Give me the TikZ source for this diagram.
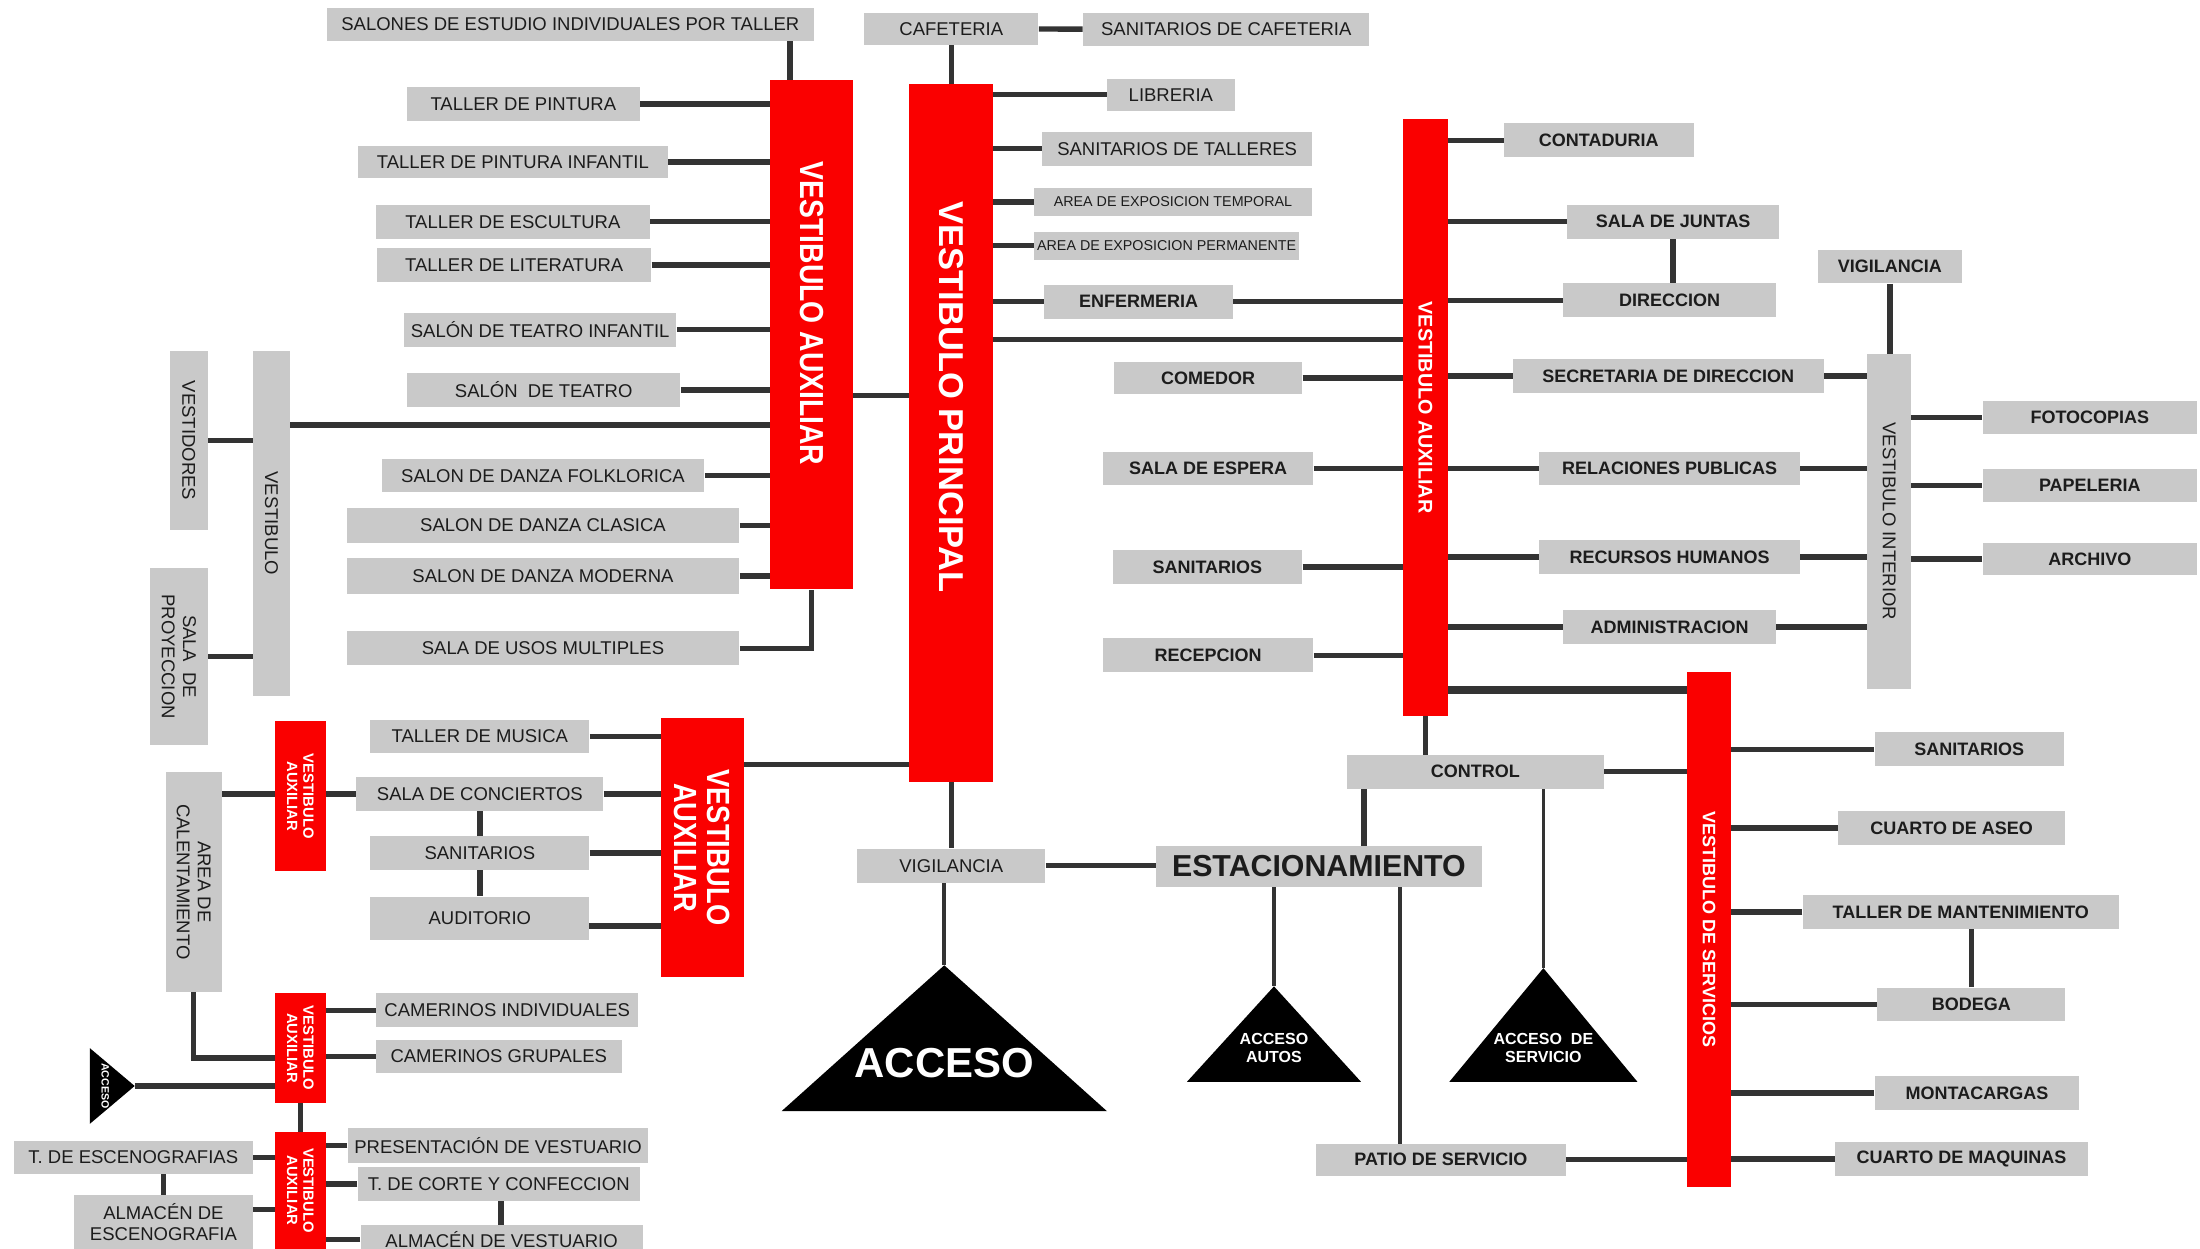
\documentclass[tikz,border=0pt]{standalone}
\usepackage{fontspec}
\setmainfont{Liberation Sans}
\newfontfamily\vestfont[FakeStretch=0.85]{Liberation Sans}
\usetikzlibrary{backgrounds}

\definecolor{gris}{RGB}{201,201,201}
\definecolor{rojo}{RGB}{250,0,0}
\definecolor{linea}{RGB}{51,51,51}
\definecolor{letra}{RGB}{28,28,28}

\begin{document}
\begin{tikzpicture}[
  x=0.2mm, y=-0.2mm,
  sz/.style 2 args={minimum width=#1*0.2mm, minimum height=#2*0.2mm},
  sala/.style={fill=gris, inner sep=0pt, text=letra, align=center,
    font=\fontsize{7.5}{8.6}\selectfont},
  salab/.style={sala, font=\fontsize{7.3}{8.6}\selectfont\bfseries},
  chica/.style={sala, font=\fontsize{5.8}{7}\selectfont},
  vest/.style={fill=rojo, inner sep=0pt, text=white, align=center},
  conn/.style={draw=linea, line width=2.2pt},
  delgado/.style={draw=linea, line width=1.5pt},
  grueso/.style={draw=linea, line width=3.2pt},
  acceso/.style={fill=black}
]
\useasboundingbox (0,0) rectangle (1568,890);

% talleres
\node (salones) at (406.5,17.5) [sala, sz={347}{23}] {SALONES DE ESTUDIO INDIVIDUALES POR TALLER};
\node (pintura) at (373,74) [sala, sz={166}{24}] {TALLER DE PINTURA};
\node (pintinf) at (365.5,115.5) [sala, sz={221}{23}] {TALLER DE PINTURA INFANTIL};
\node (escult) at (365.5,158) [sala, sz={195}{24}] {TALLER DE ESCULTURA};
\node (literat) at (366.5,189) [sala, sz={195}{24}] {TALLER DE LITERATURA};
\node (teatinf) at (385,235) [sala, sz={194}{24}] {SALÓN DE TEATRO INFANTIL};
\node (teatro) at (387.5,278) [sala, sz={195}{24}] {SALÓN\ \ DE TEATRO};
\node (folk) at (387,339) [sala, sz={230}{24}] {SALON DE DANZA FOLKLORICA};
\node (clasica) at (387,374.5) [sala, sz={280}{25}] {SALON DE DANZA CLASICA};
\node (moderna) at (387,410.5) [sala, sz={280}{25}] {SALON DE DANZA MODERNA};
\node (usos) at (387,462) [sala, sz={280}{24}] {SALA DE USOS MULTIPLES};

\node (vestidores) at (134.5,314) [sala, rotate=-90, sz={128}{27}] {VESTIDORES};
\node (vestib) at (193.5,373) [sala, rotate=-90, sz={246}{27}] {VESTIBULO};
\node (proyec) at (127.5,468) [sala, rotate=-90, sz={126}{41}] {SALA\ \ DE\\PROYECCION};

\node (vaux1) at (578.5,238.5) [vest, rotate=-90, sz={363}{59},
  font=\vestfont\fontsize{13.5}{15}\selectfont\bfseries] {VESTIBULO AUXILIAR\hspace*{17pt}};
\node (vprin) at (678,308.5) [vest, rotate=-90, sz={497}{60},
  font=\fontsize{14}{16}\selectfont\bfseries] {VESTIBULO PRINCIPAL\hspace*{29pt}};

% cafeteria y exposiciones
\node (cafe) at (678,20.5) [sala, sz={124}{23}] {CAFETERIA};
\node (sancafe) at (874,21) [sala, sz={204}{24}] {SANITARIOS DE CAFETERIA};
\node (libreria) at (834.5,67.5) [sala, sz={91}{23}] {LIBRERIA};
\node (santall) at (839,106) [sala, sz={192}{24}] {SANITARIOS DE TALLERES};
\node (exptemp) at (836,144) [chica, sz={198}{20}] {AREA DE EXPOSICION TEMPORAL};
\node (expperm) at (831.5,175) [chica, sz={189}{20}] {AREA DE EXPOSICION PERMANENTE};
\node (enferm) at (811.5,215) [salab, sz={135}{24}] {ENFERMERIA};

% administracion
\node (vaux2) at (1016,297.5) [vest, rotate=-90, sz={425}{32},
  font=\fontsize{8}{9}\selectfont\bfseries] {VESTIBULO AUXILIAR\hspace*{8pt}};
\node (comedor) at (861,269.5) [salab, sz={134}{23}] {COMEDOR};
\node (espera) at (861,334) [salab, sz={150}{24}] {SALA DE ESPERA};
\node (sanit1) at (860.5,404) [salab, sz={135}{24}] {SANITARIOS};
\node (recep) at (861,467) [salab, sz={150}{24}] {RECEPCION};
\node (contad) at (1139.5,100) [salab, sz={135}{24}] {CONTADURIA};
\node (juntas) at (1192.5,158) [salab, sz={151}{24}] {SALA DE JUNTAS};
\node (direcc) at (1190,214) [salab, sz={152}{24}] {DIRECCION};
\node (secret) at (1189,268) [salab, sz={222}{24}] {SECRETARIA DE DIRECCION};
\node (relac) at (1190,334) [salab, sz={186}{24}] {RELACIONES PUBLICAS};
\node (recurs) at (1190,397) [salab, sz={186}{24}] {RECURSOS HUMANOS};
\node (admin) at (1190,447) [salab, sz={152}{24}] {ADMINISTRACION};
\node (vigil2) at (1347,190) [salab, sz={102}{24}] {VIGILANCIA};
\node (vint) at (1346.5,371.5) [sala, rotate=-90, sz={239}{31}] {VESTIBULO INTERIOR};
\node (fotoc) at (1489.5,297.5) [salab, sz={153}{23}] {FOTOCOPIAS};
\node (papel) at (1489.5,346) [salab, sz={153}{24}] {PAPELERIA};
\node (archiv) at (1489.5,398.5) [salab, sz={153}{23}] {ARCHIVO};

% servicios
\node (vserv) at (1218,662.5) [vest, rotate=-90, sz={367}{32},
  font=\fontsize{7.3}{9}\selectfont\bfseries] {VESTIBULO DE SERVICIOS};
\node (control) at (1051.5,550) [salab, sz={183}{24}] {CONTROL};
\node (estac) at (940,617.5) [sala, sz={232}{29},
  font=\fontsize{12.3}{14}\selectfont\bfseries] {ESTACIONAMIENTO};
\node (vigil1) at (678,617) [sala, sz={134}{24}] {VIGILANCIA};
\node (patio) at (1027,826.5) [salab, sz={178}{23}] {PATIO DE SERVICIO};
\node (sanit3) at (1403.5,534) [salab, sz={135}{24}] {SANITARIOS};
\node (aseo) at (1391,590) [salab, sz={162}{24}] {CUARTO DE ASEO};
\node (mant) at (1397.5,650) [salab, sz={225}{24}] {TALLER DE MANTENIMIENTO};
\node (bodega) at (1405,716) [salab, sz={134}{24}] {BODEGA};
\node (montac) at (1409,779) [salab, sz={146}{24}] {MONTACARGAS};
\node (maquin) at (1398,826) [salab, sz={180}{24}] {CUARTO DE MAQUINAS};

% accesos
\coordinate (apex) at (673,688);
\coordinate (autosapex) at (908,703);
\coordinate (servapex) at (1100,690);
\coordinate (peqtip) at (96,774);
\fill[acceso] (apex) -- (557,792) -- (789,792) -- cycle;
\fill[acceso] (autosapex) -- (846,771) -- (970,771) -- cycle;
\fill[acceso] (servapex) -- (1033,771) -- (1167,771) -- cycle;
\fill[acceso] (peqtip) -- (64,747) -- (64,801) -- cycle;
\node (acc) at (673,758) [text=white, font=\fontsize{17}{19}\selectfont\bfseries] {ACCESO};
\node (accautos) at (908,747) [text=white, align=center,
  font=\fontsize{6.5}{7.6}\selectfont\bfseries] {ACCESO\\AUTOS};
\node (accserv) at (1100,747) [text=white, align=center,
  font=\fontsize{6.5}{7.6}\selectfont\bfseries] {ACCESO\ \ DE\\SERVICIO};
\node (accpeq) at (75,774) [text=white, rotate=-90, inner sep=0pt,
  font=\fontsize{4.3}{5}\selectfont\bfseries] {ACCESO};

% zona de musica y vestuario
\node (vaux3) at (500.5,604) [vest, rotate=-90, sz={184}{59},
  font=\vestfont\fontsize{13}{13.5}\selectfont\bfseries] {VESTIBULO\\AUXILIAR};
\node (musica) at (342,525) [sala, sz={156}{24}] {TALLER DE MUSICA};
\node (concier) at (342,566) [sala, sz={176}{24}] {SALA DE CONCIERTOS};
\node (sanit2) at (342,608) [sala, sz={156}{24}] {SANITARIOS};
\node (audit) at (342,654.5) [sala, sz={156}{31}] {AUDITORIO};
\node (vsm1) at (214,567.5) [vest, rotate=-90, sz={107}{36},
  font=\fontsize{6}{6.6}\selectfont\bfseries] {VESTIBULO\\AUXILIAR};
\node (calent) at (138,628.5) [sala, rotate=-90, sz={157}{40}] {AREA DE\\CALENTAMIENTO};
\node (vsm2) at (214,747) [vest, rotate=-90, sz={78}{36},
  font=\fontsize{6}{6.6}\selectfont\bfseries] {VESTIBULO\\AUXILIAR};
\node (camind) at (361.5,720) [sala, sz={187}{24}] {CAMERINOS INDIVIDUALES};
\node (camgrup) at (355.5,753) [sala, sz={175}{24}] {CAMERINOS GRUPALES};
\node (vsm3) at (214,848.5) [vest, rotate=-90, sz={83}{36},
  font=\fontsize{6}{6.6}\selectfont\bfseries] {VESTIBULO\\AUXILIAR};
\node (presvest) at (355,816.5) [sala, sz={214}{25}] {PRESENTACIÓN DE VESTUARIO};
\node (corte) at (355.5,844) [sala, sz={201}{24}] {T. DE CORTE Y CONFECCION};
\node (almvest) at (357.5,883.5) [sala, sz={201}{21}] {ALMACÉN DE VESTUARIO};
\node (escenog) at (95,825) [sala, sz={170}{24}] {T. DE ESCENOGRAFIAS};
\node (almesc) at (116.5,871) [sala, sz={127}{38}] {ALMACÉN DE\\ESCENOGRAFIA};

\begin{scope}[on background layer]
  \fill[white] (0,0) rectangle (1568,890);
  \draw[conn] (salones -| 563,0) -- (vaux1 -| 563,0);
  \foreach \s in {pintura, pintinf, escult, literat, teatinf, teatro, folk, clasica, moderna}
    \draw[conn] (\s) -- (\s -| vaux1);
  \draw[conn] (usos) -| (vaux1);
  \draw[conn] (vestidores) -- (vestidores -| vestib);
  \draw[conn] (proyec) -- (proyec -| vestib);
  \draw[conn] (vestib |- 0,303) -- (vaux1 |- 0,303);
  \draw[conn] (vaux1 |- 0,282) -- (vprin |- 0,282);
  \draw[conn] (cafe) -- (vprin);
  \draw[conn] (cafe) -- (sancafe);
  \foreach \s in {libreria, santall, exptemp, expperm}
    \draw[conn] (\s) -- (\s -| vprin);
  \draw[conn] (enferm -| vprin) -- (enferm -| vaux2);
  \draw[conn] (vprin |- 0,242) -- (vaux2 |- 0,242);
  \foreach \s in {comedor, espera, sanit1, recep, contad, juntas, direcc}
    \draw[conn] (\s) -- (\s -| vaux2);
  \foreach \s in {secret, relac, recurs, admin}
    \draw[conn] (\s -| vaux2) -- (\s -| vint);
  \draw[conn] (juntas) -- (juntas |- direcc);
  \draw[conn] (vigil2) -- (vigil2 |- vint);
  \foreach \s in {fotoc, papel, archiv}
    \draw[conn] (\s) -- (\s -| vint);
  \draw[grueso] (vaux2 |- 0,492) -- (vserv |- 0,492);
  \draw[conn] (vaux2) -- (vaux2 |- control);
  \draw[conn] (control) -- (control -| vserv);
  \draw[conn] (control -| 972,0) -- (estac -| 972,0);
  \draw[delgado] (control -| servapex) -- (servapex);
  \draw[conn] (vprin) -- (vigil1);
  \draw[conn] (vigil1) -- (vigil1 -| estac);
  \draw[delgado] (vigil1 -| apex) -- (apex);
  \draw[delgado] (estac -| autosapex) -- (autosapex);
  \draw[delgado] (estac -| 998,0) -- (patio -| 998,0);
  \draw[conn] (patio) -- (patio -| vserv);
  \foreach \s in {sanit3, aseo, mant, bodega, montac, maquin}
    \draw[conn] (\s) -- (\s -| vserv);
  \draw[conn] (bodega) -- (bodega |- mant);
  \draw[conn] (vaux3 |- 0,545) -- (vprin |- 0,545);
  \foreach \s in {musica, concier, sanit2}
    \draw[conn] (\s) -- (\s -| vaux3);
  \draw[conn] (audit |- 0,660) -- (vaux3 |- 0,660);
  \draw[conn] (concier) -- (audit);
  \draw[conn] (calent |- concier) -- (concier);
  \draw[conn] (calent) |- (vsm2 |- 0,754);
  \draw[conn] (camind) -- (camind -| vsm2);
  \draw[conn] (camgrup) -- (camgrup -| vsm2);
  \draw[conn] (peqtip) -- (peqtip -| vsm2);
  \draw[conn] (vsm2) -- (vsm3);
  \draw[conn] (presvest) -- (presvest -| vsm3);
  \draw[conn] (corte) -- (corte -| vsm3);
  \draw[conn] (almvest) -- (almvest -| vsm3);
  \draw[conn] (corte -| 357,0) -- (almvest -| 357,0);
  \draw[conn] (escenog) -- (escenog -| vsm3);
  \draw[conn] (almesc |- 0,862) -- (vsm3 |- 0,862);
  \draw[conn] (almesc) -- (almesc |- escenog);
\end{scope}
\end{tikzpicture}
\end{document}
